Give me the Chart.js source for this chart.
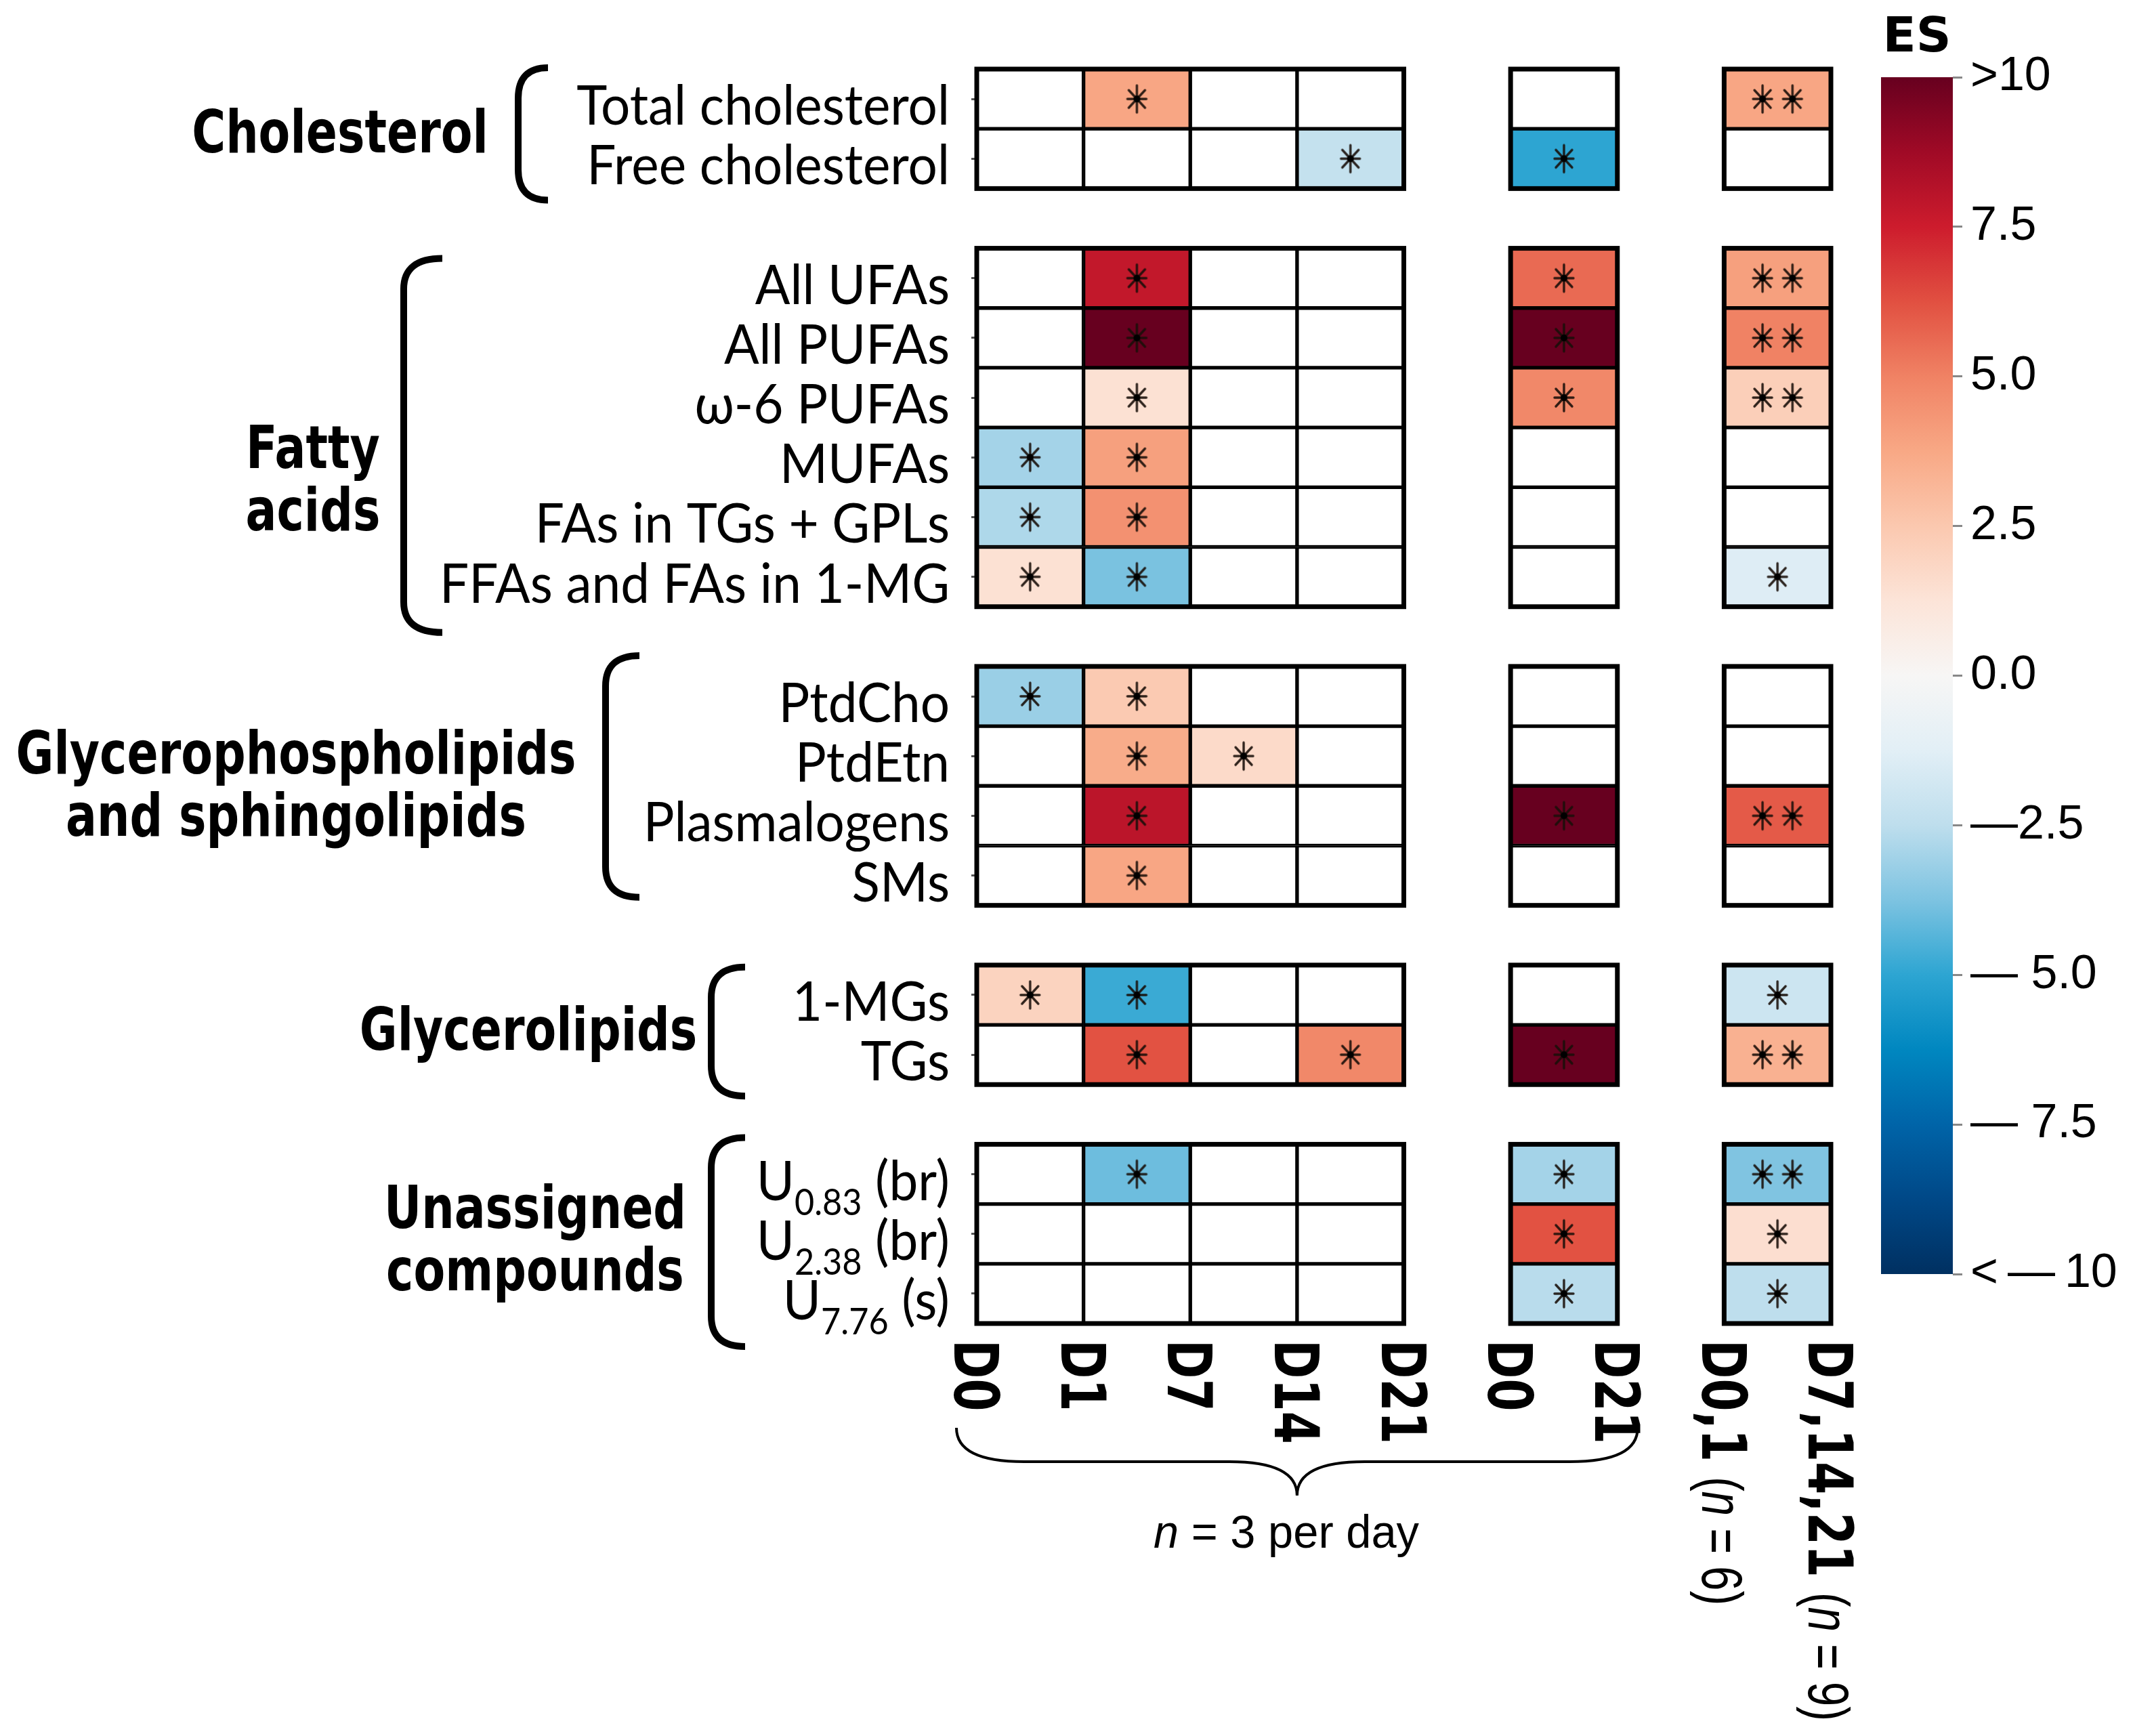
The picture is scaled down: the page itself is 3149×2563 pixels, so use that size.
<!DOCTYPE html>
<html>
<head>
<meta charset="utf-8">
<script src="https://cdn.jsdelivr.net/npm/chart.js@4.4.1/dist/chart.umd.min.js"></script>
<style>
  html, body { margin: 0; padding: 0; background: #fff; }
  #wrap { position: relative; width: 3149px; height: 2563px; }
  #heat { position: absolute; left: 0; top: 0; width: 3149px; height: 2563px; }
  #bar { position: absolute; left: 2700px; top: 0; width: 449px; height: 2000px; }
</style>
</head>
<body>
<div id="wrap">
  <canvas id="heat" width="3149" height="2563"></canvas>
  <canvas id="bar" width="449" height="2000"></canvas>
</div>
<script>
// Показатели (строки), группы и подписи
const rowLabels = [
  'Total cholesterol', 'Free cholesterol',
  'All UFAs', 'All PUFAs', 'ω-6 PUFAs', 'MUFAs', 'FAs in TGs + GPLs', 'FFAs and FAs in 1-MG',
  'PtdCho', 'PtdEtn', 'Plasmalogens', 'SMs',
  '1-MGs', 'TGs',
  'U_0.83 (br)', 'U_2.38 (br)', 'U_7.76 (s)'
];
const groupNames = [['Cholesterol'], ['Fatty', 'acids'], ['Glycerophospholipids', 'and sphingolipids'], ['Glycerolipids'], ['Unassigned', 'compounds']];
const groupSizes = [2, 6, 4, 2, 3];

// Подписи оси X (границы столбцов) и столбцы как пары границ
const tickLabels = ['D0', 'D1', 'D7', 'D14', 'D21', 'D0', 'D21', 'D0,1', 'D7,14,21'];
const tickNotes = ['', '', '', '', '', '', '', '(n = 6)', '(n = 9)'];
const columnSpans = [[0, 1], [1, 2], [2, 3], [3, 4], [5, 6], [7, 8]];

// ES: D0-D1, D1-D7, D7-D14, D14-D21, D0-D21, D0,1 vs D7,14,21
const esValues = [
  [null, 3.8, null, null, null, 3.8],
  [null, null, null, -2.3, -5.0, null],
  [null, 7.8, null, null, 5.6, 4.0],
  [null, 10.5, null, null, 10.5, 5.0],
  [null, 1.4, null, null, 4.8, 2.2],
  [-3.0, 4.0, null, null, null, null],
  [-2.8, 4.5, null, null, null, null],
  [1.4, -3.8, null, null, null, -1.4],
  [-3.2, 2.4, null, null, null, null],
  [null, 3.6, 1.7, null, null, null],
  [null, 8.0, null, null, 10.5, 6.0],
  [null, 3.8, null, null, null, null],
  [2.0, -4.8, null, null, null, -2.0],
  [null, 6.2, null, 4.8, 10.5, 3.4],
  [null, -4.0, null, null, -3.0, -3.7],
  [null, null, null, null, 6.2, 1.5],
  [null, null, null, null, -2.6, -2.5]
];
// Значимость: 1 = *, 2 = **
const sigLevels = [
  [0, 1, 0, 0, 0, 2],
  [0, 0, 0, 1, 1, 0],
  [0, 1, 0, 0, 1, 2],
  [0, 1, 0, 0, 1, 2],
  [0, 1, 0, 0, 1, 2],
  [1, 1, 0, 0, 0, 0],
  [1, 1, 0, 0, 0, 0],
  [1, 1, 0, 0, 0, 1],
  [1, 1, 0, 0, 0, 0],
  [0, 1, 1, 0, 0, 0],
  [0, 1, 0, 0, 1, 2],
  [0, 1, 0, 0, 0, 0],
  [1, 1, 0, 0, 0, 1],
  [0, 1, 0, 1, 1, 2],
  [0, 1, 0, 0, 1, 2],
  [0, 0, 0, 0, 1, 1],
  [0, 0, 0, 0, 1, 1]
];

// Шкала цвета
const cbTicks = [10, 7.5, 5, 2.5, 0, -2.5, -5, -7.5, -10];
const cbLabels = ['>10', '7.5', '5.0', '2.5', '0.0', '—2.5', '— 5.0', '— 7.5', '<\u2009—\u200910'];

const cmapStops = [
  [-10, [0, 48, 97]], [-8.75, [0, 72, 135]], [-7.5, [0, 100, 168]], [-6.25, [0, 135, 192]],
  [-5, [45, 165, 210]], [-3.75, [125, 195, 225]], [-2.5, [190, 222, 237]], [-1.25, [226, 239, 246]],
  [0, [247, 246, 245]], [1.25, [252, 228, 216]], [2.5, [251, 200, 175]], [3.75, [248, 168, 133]],
  [5, [240, 130, 100]], [6.25, [225, 80, 65]], [7.5, [205, 28, 45]], [8.75, [160, 10, 38]], [10, [103, 0, 31]]
];

function esColor(v) {
  v = Math.max(-10, Math.min(10, v));
  for (let i = 1; i < cmapStops.length; i++) {
    const [v1, c1] = cmapStops[i];
    const [v0, c0] = cmapStops[i - 1];
    if (v <= v1) {
      const t = (v - v0) / (v1 - v0);
      const c = c0.map((a, k) => Math.round(a + (c1[k] - a) * t));
      return `rgb(${c[0]}, ${c[1]}, ${c[2]})`;
    }
  }
  return 'rgb(103, 0, 31)';
}

// Раскладка строк по слотам (пустой слот между группами)
const slotLabels = [];
const rowSlot = [];
const groupFirst = [];
const groupLast = [];
let rr = 0;
groupSizes.forEach((n, g) => {
  if (g > 0) slotLabels.push('');
  groupFirst.push(slotLabels.length);
  for (let k = 0; k < n; k++, rr++) {
    rowSlot.push(slotLabels.length);
    slotLabels.push(rowLabels[rr]);
  }
  groupLast.push(slotLabels.length - 1);
});

// Блоки столбцов (смежные столбцы объединяются в рамку)
const colBlocks = [];
columnSpans.forEach(([a, b]) => {
  const last = colBlocks[colBlocks.length - 1];
  if (last && last[1] === a) last[1] = b; else colBlocks.push([a, b]);
});

// Положение подписей групп и скобок
const groupLayout = [
  { cx: 502, dy: 3, bx0: 765, bx1: 809, dt: -2, db: 17 },
  { cx: 462, dy: 74, bx0: 596, bx1: 653, dt: 15, db: 38 },
  { cx: 437, dy: -4, bx0: 894, bx1: 944, dt: -16, db: -12 },
  { cx: 780, dy: 5, bx0: 1050, bx1: 1100, dt: 3, db: 17 },
  { cx: 790, dy: 5, bx0: 1050, bx1: 1100, dt: -10, db: 34 }
];

function makeAsterisk() {
  const c = document.createElement('canvas');
  c.width = 36; c.height = 48;
  const g = c.getContext('2d');
  g.strokeStyle = 'rgba(25, 15, 10, 0.9)';
  g.lineWidth = 3.4;
  g.lineCap = 'round';
  g.beginPath();
  g.moveTo(18, 4); g.lineTo(18, 44);
  g.moveTo(6, 11); g.lineTo(30, 37);
  g.moveTo(30, 11); g.lineTo(6, 37);
  g.moveTo(4, 24); g.lineTo(32, 24);
  g.stroke();
  g.beginPath();
  g.arc(18, 24, 5, 0, Math.PI * 2);
  g.fillStyle = '#000';
  g.fill();
  return c;
}

// Текст с курсивной "n"
function drawRich(ctx, text, x0, base, size, sx) {
  const parts = text.split(/(\bn\b)/).filter(p => p.length);
  let xx = x0;
  parts.forEach(p => {
    ctx.font = (p === 'n' ? 'italic ' : '') + size + 'px "Liberation Sans"';
    ctx.save();
    ctx.translate(xx, base);
    ctx.scale(sx, 1);
    ctx.fillText(p, 0, 0);
    ctx.restore();
    xx += ctx.measureText(p).width * sx;
  });
  return xx - x0;
}
function richWidth(ctx, text, size, sx) {
  let w = 0;
  text.split(/(\bn\b)/).filter(p => p.length).forEach(p => {
    ctx.font = (p === 'n' ? 'italic ' : '') + size + 'px "Liberation Sans"';
    w += ctx.measureText(p).width * sx;
  });
  return w;
}

function drawRowLabel(ctx, text, xRight, base, sx) {
  const m = text.match(/^(.*?)_(\S+)(.*)$/);
  const parts = m ? [[m[1], 82, 0], [m[2], 54, 22], [m[3], 82, 0]] : [[text, 82, 0]];
  let total = 0;
  parts.forEach(p => {
    ctx.font = p[1] + 'px Lato';
    p.push(ctx.measureText(p[0]).width * sx);
    total += p[3];
  });
  let xx = xRight - total;
  parts.forEach(p => {
    ctx.font = p[1] + 'px Lato';
    ctx.save();
    ctx.translate(xx, base + p[2]);
    ctx.scale(sx, 1);
    ctx.fillText(p[0], 0, 0);
    ctx.restore();
    xx += p[3];
  });
}

const annotations = {
  id: 'annotations',
  afterDraw(chart) {
    const { ctx, chartArea, scales: { x, y } } = chart;
    const half = (y.getPixelForValue(1) - y.getPixelForValue(0)) / 2;
    ctx.save();
    ctx.fillStyle = '#000';
    ctx.strokeStyle = '#000';
    ctx.textAlign = 'left';
    ctx.textBaseline = 'alphabetic';

    // Рамки блоков
    ctx.lineWidth = 7;
    groupSizes.forEach((n, g) => {
      const top = y.getPixelForValue(groupFirst[g]) - half;
      const bot = y.getPixelForValue(groupLast[g]) + half;
      colBlocks.forEach(([a, b]) => {
        const x0 = x.getPixelForValue(a), x1 = x.getPixelForValue(b);
        ctx.strokeRect(x0, top, x1 - x0, bot - top);
      });
    });

    // Подписи строк
    ctx.font = '82px Lato';
    const sxRow = 753 / ctx.measureText('FFAs and FAs in 1-MG').width;
    rowLabels.forEach((lab, i) => {
      drawRowLabel(ctx, lab, chartArea.left - 40, y.getPixelForValue(rowSlot[i]) + 38, sxRow);
    });

    // Группы и скобки
    ctx.font = 'bold 88px "DejaVu Sans"';
    const sxGrp = 827 / ctx.measureText('Glycerophospholipids').width;
    groupNames.forEach((lines, g) => {
      const L = groupLayout[g];
      const top = y.getPixelForValue(groupFirst[g]) - half;
      const bot = y.getPixelForValue(groupLast[g]) + half;
      const mid = (top + bot) / 2 + L.dy;
      ctx.font = 'bold 88px "DejaVu Sans"';
      lines.forEach((t, k) => {
        const w = ctx.measureText(t).width * sxGrp;
        ctx.save();
        ctx.translate(L.cx - w / 2, mid + (k - (lines.length - 1) / 2) * 92 + 32);
        ctx.scale(sxGrp, 1);
        ctx.fillText(t, 0, 0);
        ctx.restore();
      });
      const yt = top + L.dt, yb = bot + L.db, r = 45;
      ctx.lineWidth = 10;
      ctx.beginPath();
      ctx.moveTo(L.bx1, yt);
      ctx.quadraticCurveTo(L.bx0, yt, L.bx0, yt + r);
      ctx.lineTo(L.bx0, yb - r);
      ctx.quadraticCurveTo(L.bx0, yb, L.bx1, yb);
      ctx.stroke();
    });

    // Подписи оси X (повёрнуты)
    ctx.font = 'bold 90px "DejaVu Sans"';
    const sxTick = 351 / ctx.measureText('D7,14,21').width;
    ctx.font = '86px "Liberation Sans"';
    const sxNote = 190 / ctx.measureText('(n = 9)').width;
    const capT = 0.729 * 90;
    tickLabels.forEach((lab, i) => {
      const px = x.getPixelForValue(i);
      ctx.save();
      ctx.translate(px - capT / 2, 1978);
      ctx.rotate(Math.PI / 2);
      ctx.font = 'bold 90px "DejaVu Sans"';
      ctx.save();
      ctx.scale(sxTick, 1);
      ctx.fillText(lab, 0, 0);
      ctx.restore();
      const adv = ctx.measureText(lab).width * sxTick;
      if (tickNotes[i]) drawRich(ctx, tickNotes[i], adv + 22, 0, 86, sxNote);
      ctx.restore();
    });

    // Фигурная скобка и подпись
    const xl = x.getPixelForValue(0) - 30, xr = x.getPixelForValue(6) + 30, xm = x.getPixelForValue(3);
    const yT = 2108, yM = 2158, yB = 2208, br = 100;
    ctx.lineWidth = 4;
    ctx.beginPath();
    ctx.moveTo(xl, yT);
    ctx.quadraticCurveTo(xl, yM, xl + br, yM);
    ctx.lineTo(xm - br, yM);
    ctx.quadraticCurveTo(xm, yM, xm, yB);
    ctx.quadraticCurveTo(xm, yM, xm + br, yM);
    ctx.lineTo(xr - br, yM);
    ctx.quadraticCurveTo(xr, yM, xr, yT);
    ctx.stroke();

    ctx.font = '68px "Liberation Sans"';
    const sxN = 392 / ctx.measureText('n = 3 per day').width;
    const wN = richWidth(ctx, 'n = 3 per day', 68, sxN);
    drawRich(ctx, 'n = 3 per day', 1899 - wN / 2, 2285, 68, sxN);
    ctx.restore();
  }
};

document.addEventListener('DOMContentLoaded', function() {
  // Ячейки теплокарты
  const cells = [];
  esValues.forEach((row, r) => row.forEach((v, c) => {
    cells.push({ x: columnSpans[c], y: rowLabels[r], v: v });
  }));
  // Звёздочки значимости
  const stars = [];
  sigLevels.forEach((row, r) => row.forEach((s, c) => {
    const mid = (columnSpans[c][0] + columnSpans[c][1]) / 2;
    if (s === 1) stars.push({ x: mid, y: rowLabels[r] });
    if (s === 2) stars.push({ x: mid - 0.14, y: rowLabels[r] }, { x: mid + 0.14, y: rowLabels[r] });
  }));

  new Chart(document.getElementById('heat'), {
    type: 'bar',
    data: {
      datasets: [
        {
          type: 'scatter',
          indexAxis: 'x',
          data: stars,
          pointStyle: makeAsterisk(),
          pointRadius: 10,
          order: 0
        },
        {
          data: cells,
          backgroundColor: c => (c.raw && c.raw.v != null) ? esColor(c.raw.v) : '#ffffff',
          borderColor: '#000',
          borderWidth: 3,
          borderSkipped: false,
          barPercentage: 1,
          categoryPercentage: 1,
          order: 1
        }
      ]
    },
    options: {
      indexAxis: 'y',
      responsive: false,
      devicePixelRatio: 1,
      animation: false,
      layout: { padding: { left: 1434, right: 446, top: 102, bottom: 609 } },
      plugins: { legend: { display: false }, tooltip: { enabled: false } },
      scales: {
        x: { type: 'linear', min: 0, max: 8, display: false },
        y: {
          type: 'category',
          labels: slotLabels,
          offset: true,
          grid: {
            offset: false,
            drawOnChartArea: false,
            drawTicks: true,
            tickLength: 8,
            tickWidth: 3,
            tickColor: c => slotLabels[c.index] ? '#555' : 'rgba(0,0,0,0)'
          },
          border: { display: false },
          ticks: { display: false },
          afterFit: s => { s.width = 8; }
        }
      }
    },
    plugins: [annotations]
  });

  // Цветовая шкала
  const esTitle = {
    id: 'esTitle',
    afterDraw(chart) {
      const { ctx, chartArea } = chart;
      ctx.save();
      ctx.font = 'bold 72px "DejaVu Sans"';
      ctx.fillStyle = '#000';
      ctx.textAlign = 'center';
      ctx.fillText('ES', (chartArea.left + chartArea.right) / 2, 76);
      ctx.restore();
    }
  };
  new Chart(document.getElementById('bar'), {
    type: 'bar',
    data: {
      labels: ['ES'],
      datasets: [{
        data: [[cbTicks[cbTicks.length - 1], cbTicks[0]]],
        backgroundColor: c => {
          const ch = c.chart;
          if (!ch.chartArea) return '#ccc';
          const ys = ch.scales.y;
          const grad = ch.ctx.createLinearGradient(0, ys.getPixelForValue(10), 0, ys.getPixelForValue(-10));
          cmapStops.forEach(([v, col]) => grad.addColorStop((10 - v) / 20, `rgb(${col[0]}, ${col[1]}, ${col[2]})`));
          return grad;
        },
        borderWidth: 0,
        barPercentage: 1,
        categoryPercentage: 1
      }]
    },
    options: {
      responsive: false,
      devicePixelRatio: 1,
      animation: false,
      layout: { padding: { left: 77, right: 26, top: 114, bottom: 119 } },
      plugins: { legend: { display: false }, tooltip: { enabled: false } },
      scales: {
        x: { display: false },
        y: {
          position: 'right',
          min: -10,
          max: 10,
          afterBuildTicks: s => { s.ticks = cbTicks.map(v => ({ value: v })); },
          ticks: {
            callback: v => cbLabels[cbTicks.findIndex(t => Math.abs(t - v) < 1e-6)],
            font: { family: '"Liberation Sans"', size: 70 },
            color: '#000',
            padding: 12
          },
          grid: { drawOnChartArea: false, tickLength: 14, tickWidth: 3, tickColor: '#888' },
          border: { display: false },
          afterFit: s => { s.width = 240; }
        }
      }
    },
    plugins: [esTitle]
  });
});
</script>
</body>
</html>
